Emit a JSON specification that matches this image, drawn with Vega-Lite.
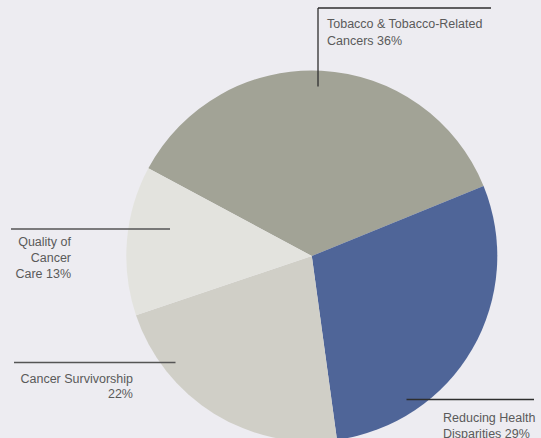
{
  "$schema": "https://vega.github.io/schema/vega-lite/v6.json",
  "width": 541,
  "height": 438,
  "autosize": {"type": "none"},
  "padding": 0,
  "background": "#edecf1",
  "config": {"view": {"stroke": null}},
  "datasets": {
    "slices": [
      {"category": "Tobacco & Tobacco-Related Cancers", "pct": 36, "order": 1},
      {"category": "Reducing Health Disparities", "pct": 29, "order": 2},
      {"category": "Cancer Survivorship", "pct": 22, "order": 3},
      {"category": "Quality of Cancer Care", "pct": 13, "order": 4}
    ],
    "leaders": [
      {"x1": 318, "x2": 491, "y1": 8, "y2": 8, "tone": "dark"},
      {"x1": 318, "x2": 318, "y1": 8, "y2": 86.5, "tone": "dark"},
      {"x1": 11, "x2": 170, "y1": 229, "y2": 229, "tone": "grey"},
      {"x1": 14, "x2": 175.5, "y1": 362.5, "y2": 362.5, "tone": "grey"},
      {"x1": 406.5, "x2": 534, "y1": 399.5, "y2": 399.5, "tone": "dark"}
    ],
    "labelsLeft": [
      {"line": "Tobacco & Tobacco-Related", "x": 327, "y": 24},
      {"line": "Cancers 36%", "x": 327, "y": 41},
      {"line": "Reducing Health", "x": 443, "y": 418},
      {"line": "Disparities 29%", "x": 443, "y": 434}
    ],
    "labelsRight": [
      {"line": "Quality of", "x": 71, "y": 242},
      {"line": "Cancer", "x": 71, "y": 258},
      {"line": "Care 13%", "x": 71, "y": 273.5},
      {"line": "Cancer Survivorship", "x": 133, "y": 378.5},
      {"line": "22%", "x": 133, "y": 394}
    ]
  },
  "layer": [
    {
      "data": {"name": "slices"},
      "mark": {"type": "arc", "outerRadius": 185.5},
      "encoding": {
        "theta": {"field": "pct", "type": "quantitative", "stack": true, "scale": {"range": [-1.0786, 5.2046]}},
        "order": {"field": "order", "type": "quantitative"},
        "color": {
          "field": "category", "type": "nominal", "legend": null,
          "scale": {
            "domain": ["Tobacco & Tobacco-Related Cancers", "Reducing Health Disparities", "Cancer Survivorship", "Quality of Cancer Care"],
            "range": ["#a2a396", "#4f6598", "#d0cfc7", "#e3e3de"]
          }
        },
        "x": {"datum": 311.8, "type": "quantitative", "scale": {"domain": [0, 541]}, "axis": null},
        "y": {"datum": 256, "type": "quantitative", "scale": {"domain": [0, 438], "reverse": true}, "axis": null}
      }
    },
    {
      "data": {"name": "leaders"},
      "transform": [{"filter": "datum.tone === 'dark'"}],
      "mark": {"type": "rule", "strokeWidth": 1.3, "color": "#2e2e2e"},
      "encoding": {
        "x": {"field": "x1", "type": "quantitative", "scale": {"domain": [0, 541]}, "axis": null},
        "x2": {"field": "x2"},
        "y": {"field": "y1", "type": "quantitative", "scale": {"domain": [0, 438], "reverse": true}, "axis": null},
        "y2": {"field": "y2"}
      }
    },
    {
      "data": {"name": "leaders"},
      "transform": [{"filter": "datum.tone === 'grey'"}],
      "mark": {"type": "rule", "strokeWidth": 1.3, "color": "#555555"},
      "encoding": {
        "x": {"field": "x1", "type": "quantitative", "scale": {"domain": [0, 541]}, "axis": null},
        "x2": {"field": "x2"},
        "y": {"field": "y1", "type": "quantitative", "scale": {"domain": [0, 438], "reverse": true}, "axis": null},
        "y2": {"field": "y2"}
      }
    },
    {
      "data": {"name": "labelsLeft"},
      "mark": {"type": "text", "align": "left", "baseline": "middle", "font": "Liberation Sans", "fontSize": 12.5, "color": "#5a5a5a"},
      "encoding": {
        "text": {"field": "line"},
        "x": {"field": "x", "type": "quantitative", "scale": {"domain": [0, 541]}, "axis": null},
        "y": {"field": "y", "type": "quantitative", "scale": {"domain": [0, 438], "reverse": true}, "axis": null}
      }
    },
    {
      "data": {"name": "labelsRight"},
      "mark": {"type": "text", "align": "right", "baseline": "middle", "font": "Liberation Sans", "fontSize": 12.5, "color": "#5a5a5a"},
      "encoding": {
        "text": {"field": "line"},
        "x": {"field": "x", "type": "quantitative", "scale": {"domain": [0, 541]}, "axis": null},
        "y": {"field": "y", "type": "quantitative", "scale": {"domain": [0, 438], "reverse": true}, "axis": null}
      }
    }
  ]
}
